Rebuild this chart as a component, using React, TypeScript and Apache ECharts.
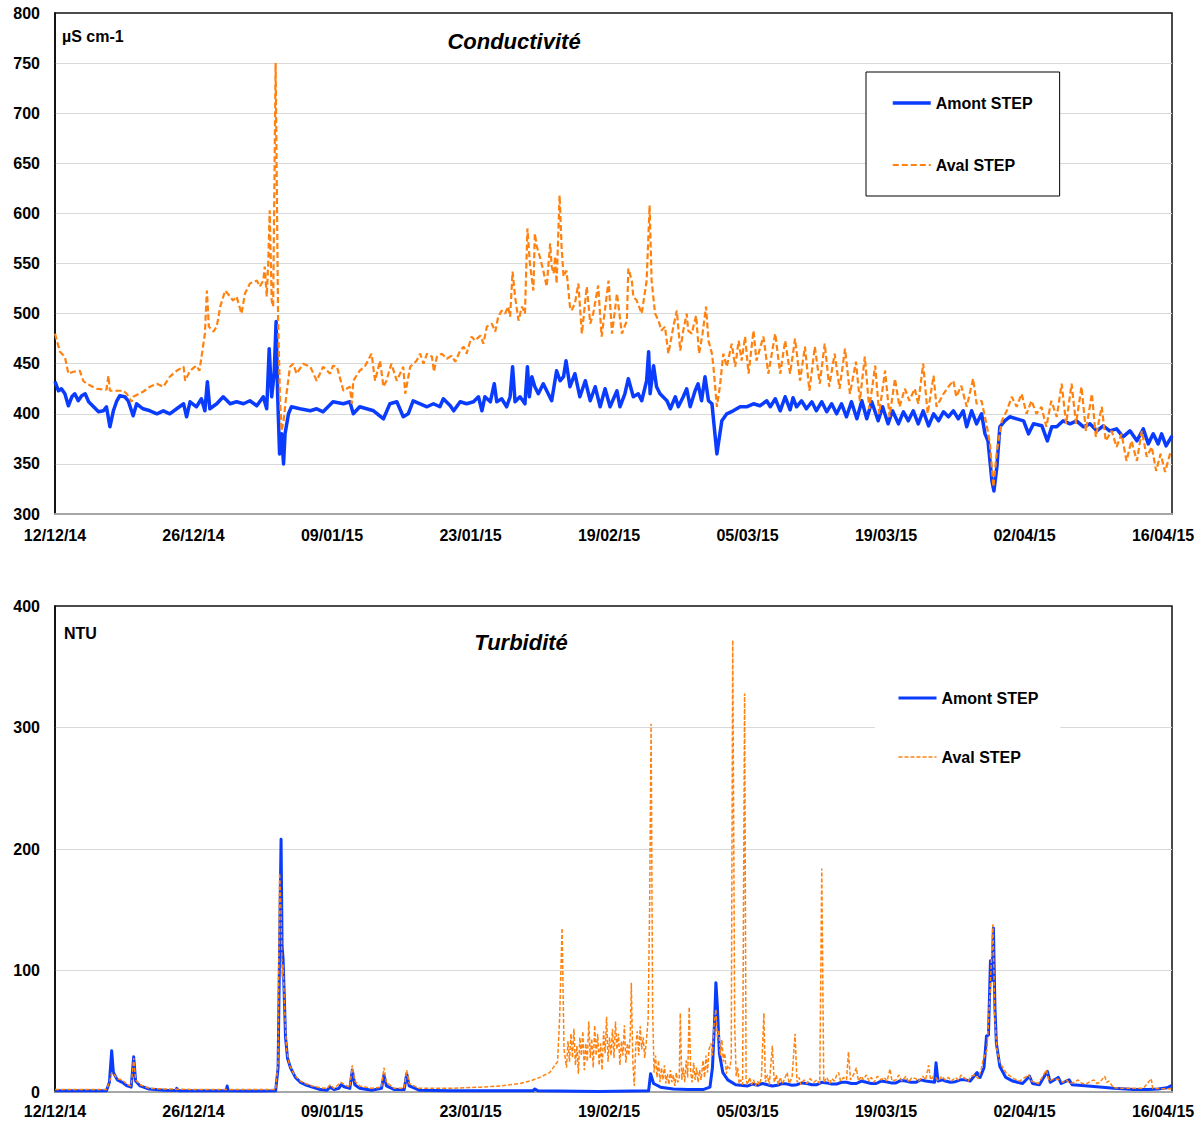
import React, { useEffect, useRef } from "react";
import * as echarts from "echarts";

// Axis tick labels, one every 14 days from the first sample
const tickLabels = [
  "12/12/14", "26/12/14", "09/01/15", "23/01/15", "19/02/15",
  "05/03/15", "19/03/15", "02/04/15", "16/04/15",
];
const seriesNames = ["Amont STEP", "Aval STEP"];

// Conductivity (µS cm-1), points as [day, value]
const condAmont: [number, number][] = [
  [0, 432], [0.35, 423], [0.65, 425], [1.0, 420], [1.35, 408], [1.7, 417], [2.0, 420], [2.35, 413], [2.7, 418],
  [3.05, 420], [3.4, 412], [3.9, 407], [4.4, 402], [4.9, 403], [5.2, 407], [5.55, 387], [5.9, 403], [6.25, 413],
  [6.55, 418], [7.05, 417], [7.4, 413], [7.9, 398], [8.25, 410], [8.9, 405], [9.6, 403], [10.3, 400], [10.95, 403],
  [11.6, 400], [12.3, 405], [13.0, 410], [13.3, 397], [13.65, 412], [14.3, 407], [14.8, 415], [15.15, 403],
  [15.4, 432], [15.65, 405], [16.35, 410], [17.0, 417], [17.7, 410], [18.35, 412], [19.05, 410], [19.7, 413],
  [20.4, 408], [21.05, 417], [21.4, 405], [21.65, 465], [21.9, 417], [22.15, 440], [22.35, 492], [22.5, 420],
  [22.7, 360], [22.9, 380], [23.1, 350], [23.25, 380], [23.6, 400], [23.9, 407], [24.75, 405], [25.8, 403],
  [26.45, 405], [27.1, 402], [28.1, 412], [29.15, 410], [29.8, 412], [30.15, 400], [30.8, 407], [31.5, 405],
  [32.2, 403], [33.2, 395], [33.85, 410], [34.55, 412], [35.2, 397], [35.7, 400], [36.2, 413], [36.9, 410],
  [37.6, 407], [38.25, 410], [38.9, 407], [39.25, 415], [39.95, 408], [40.3, 403], [40.95, 412], [41.6, 410],
  [42.3, 412], [42.8, 417], [43.15, 403], [43.45, 417], [44.0, 412], [44.4, 430], [44.65, 412], [45.15, 415],
  [45.65, 407], [46.0, 417], [46.25, 447], [46.5, 412], [47.0, 417], [47.5, 410], [47.75, 447], [47.95, 417],
  [48.2, 437], [48.5, 427], [48.85, 420], [49.35, 430], [49.85, 420], [50.2, 413], [50.7, 443], [51.05, 433],
  [51.4, 437], [51.65, 453], [52.05, 427], [52.55, 440], [53.05, 417], [53.6, 433], [54.1, 413], [54.6, 427],
  [55.1, 407], [55.6, 425], [56.1, 407], [56.8, 423], [57.1, 407], [57.6, 420], [57.95, 435], [58.45, 417],
  [58.95, 420], [59.3, 413], [59.8, 433], [60.0, 462], [60.15, 420], [60.5, 448], [60.8, 427], [61.15, 420],
  [61.85, 413], [62.2, 405], [62.7, 417], [63.0, 407], [63.5, 417], [63.85, 425], [64.2, 407], [64.7, 423],
  [65.0, 430], [65.35, 413], [65.7, 437], [66.05, 413], [66.4, 410], [66.7, 380], [66.9, 360], [67.05, 370],
  [67.4, 393], [67.9, 400], [68.55, 403], [69.25, 407], [69.9, 407], [70.6, 410], [71.25, 408], [71.95, 413],
  [72.3, 407], [72.8, 415], [73.3, 403], [73.8, 417], [74.3, 404], [74.6, 416], [74.95, 407], [75.45, 413],
  [75.95, 405], [76.5, 412], [76.95, 403], [77.5, 412], [78.0, 402], [78.5, 410], [79.0, 400], [79.5, 410],
  [80.0, 397], [80.5, 412], [81.05, 395], [81.55, 413], [82.05, 395], [82.55, 412], [83.2, 393], [83.65, 407],
  [84.2, 390], [84.65, 403], [85.25, 390], [85.75, 402], [86.25, 393], [86.75, 403], [87.25, 390], [87.75, 403],
  [88.3, 388], [88.8, 400], [89.3, 393], [89.8, 402], [90.3, 397], [90.8, 403], [91.3, 395], [91.8, 403],
  [92.15, 387], [92.65, 403], [93.15, 390], [93.65, 400], [94.0, 380], [94.3, 373], [94.7, 333], [94.9, 323],
  [95.2, 347], [95.5, 387], [96.0, 393], [96.5, 397], [97.2, 395], [97.9, 393], [98.4, 380], [98.9, 390],
  [99.75, 388], [100.3, 373], [100.75, 387], [101.25, 387], [101.9, 393], [102.6, 390], [103.25, 393],
  [103.95, 387], [104.6, 390], [105.3, 383], [105.95, 388], [106.6, 383], [107.3, 385], [107.95, 377],
  [108.65, 383], [109.35, 373], [110.0, 385], [110.5, 370], [111.0, 380], [111.5, 370], [111.85, 380],
  [112.3, 368], [112.9, 378],
];

const condAval: [number, number][] = [
  [0, 480], [0.5, 462], [1.0, 457], [1.35, 440], [1.85, 442], [2.5, 443], [2.85, 433], [3.2, 430], [4.2, 425],
  [5.2, 424], [5.4, 438], [5.55, 423], [6.9, 423], [7.25, 420], [7.75, 412], [7.9, 417], [8.9, 422], [9.6, 427],
  [10.3, 430], [10.95, 427], [11.6, 437], [12.3, 443], [13.0, 447], [13.15, 433], [13.65, 443], [14.3, 448],
  [14.6, 443], [14.9, 463], [15.15, 480], [15.35, 523], [15.55, 487], [16.0, 482], [16.35, 487], [16.7, 507],
  [17.2, 523], [17.7, 517], [18.0, 513], [18.35, 517], [18.85, 500], [19.2, 520], [19.7, 530], [20.4, 533],
  [20.7, 527], [21.05, 533], [21.2, 547], [21.4, 517], [21.55, 550], [21.7, 603], [21.9, 513], [22.05, 507],
  [22.3, 750], [22.55, 493], [22.75, 413], [22.9, 383], [23.1, 393], [23.4, 420], [23.75, 447], [24.1, 450],
  [24.4, 440], [25.1, 450], [25.8, 447], [26.45, 433], [27.1, 447], [27.8, 440], [28.1, 448], [28.5, 447],
  [29.15, 423], [29.8, 427], [30.0, 410], [30.15, 433], [30.8, 443], [31.3, 447], [32.0, 460], [32.35, 433],
  [32.85, 453], [33.2, 427], [33.5, 433], [34.0, 450], [34.55, 433], [35.2, 447], [35.4, 420], [35.9, 447],
  [36.55, 453], [36.9, 460], [37.25, 450], [37.6, 460], [38.1, 457], [38.3, 442], [38.6, 457], [39.1, 460],
  [39.6, 455], [40.1, 458], [40.45, 452], [40.95, 463], [41.3, 467], [41.6, 460], [42.1, 477], [42.45, 473],
  [43.0, 478], [43.3, 470], [43.65, 487], [44.15, 490], [44.5, 482], [44.8, 497], [45.15, 503], [45.5, 500],
  [45.8, 507], [46.0, 497], [46.25, 542], [46.5, 517], [46.85, 493], [47.2, 507], [47.5, 500], [47.75, 585],
  [48.0, 550], [48.35, 523], [48.5, 580], [48.7, 567], [49.0, 557], [49.35, 543], [49.7, 527], [50.05, 570],
  [50.2, 547], [50.4, 540], [50.55, 557], [50.7, 530], [51.0, 618], [51.2, 567], [51.4, 537], [51.7, 543],
  [52.05, 507], [52.2, 503], [52.55, 510], [52.9, 530], [53.25, 480], [53.75, 527], [54.1, 490], [54.4, 500],
  [54.9, 528], [55.25, 477], [55.95, 533], [56.3, 480], [56.8, 520], [57.3, 480], [57.8, 493], [57.95, 545],
  [58.3, 533], [58.45, 517], [58.8, 513], [59.3, 500], [59.8, 533], [60.1, 608], [60.3, 533], [60.65, 500],
  [61.0, 493], [61.3, 483], [61.65, 487], [62.0, 460], [62.5, 487], [62.85, 503], [63.2, 463], [63.5, 483],
  [63.85, 500], [64.0, 483], [64.35, 480], [64.8, 498], [65.1, 460], [65.45, 480], [65.8, 507], [66.05, 473],
  [66.4, 460], [66.55, 447], [66.9, 407], [67.2, 427], [67.55, 460], [67.9, 447], [68.4, 470], [68.75, 447],
  [69.1, 473], [69.4, 453], [69.75, 477], [70.1, 440], [70.6, 483], [70.9, 453], [71.6, 477], [72.1, 440],
  [72.8, 480], [73.3, 440], [73.8, 473], [74.3, 440], [74.8, 475], [75.3, 433], [75.8, 467], [76.25, 423],
  [76.8, 467], [77.3, 430], [77.8, 470], [78.25, 427], [78.8, 460], [79.3, 425], [79.85, 465], [80.35, 420],
  [80.95, 452], [81.35, 413], [81.85, 457], [82.3, 405], [82.9, 448], [83.3, 400], [83.9, 443], [84.35, 397],
  [84.9, 435], [85.35, 407], [85.9, 425], [86.35, 413], [86.9, 425], [87.25, 410], [87.75, 450], [88.2, 400],
  [88.8, 438], [89.1, 407], [89.8, 420], [90.3, 427], [90.8, 433], [91.1, 417], [91.6, 428], [92.15, 407],
  [92.8, 435], [93.15, 410], [93.65, 413], [94.2, 387], [94.5, 370], [94.85, 327], [95.2, 363], [95.7, 393],
  [96.2, 403], [96.7, 417], [97.2, 407], [97.7, 420], [98.2, 400], [98.7, 413], [99.2, 400], [99.7, 407],
  [100.2, 387], [100.7, 413], [101.25, 397], [101.75, 430], [102.2, 390], [102.75, 430], [103.2, 390],
  [103.75, 427], [104.2, 383], [104.8, 420], [105.2, 377], [105.8, 407], [106.2, 373], [106.8, 383],
  [107.3, 367], [107.8, 380], [108.3, 353], [108.8, 373], [109.35, 353], [109.85, 383], [110.35, 357],
  [110.85, 367], [111.3, 343], [111.75, 360], [112.2, 342], [112.7, 360], [112.9, 362],
];

// Turbidity (NTU), points as [day, value]
const turbAmont: [number, number][] = [
  [0, 1], [3, 1], [5.2, 1], [5.5, 8], [5.73, 34], [5.9, 16], [6.3, 10], [6.8, 8], [7.3, 5], [7.7, 4],
  [7.95, 29], [8.15, 9], [8.6, 5], [9.5, 2.5], [11, 1.5], [12.2, 1.2], [12.3, 3], [12.5, 1], [15, 1], [17.3, 1],
  [17.4, 5], [17.5, 1], [20, 0.8], [22.3, 1], [22.55, 20], [22.75, 150], [22.85, 208], [22.95, 120],
  [23.05, 110], [23.15, 85], [23.3, 45], [23.5, 28], [23.8, 20], [24.3, 12], [24.8, 8], [25.3, 6], [26, 4],
  [26.8, 2], [27.5, 1.5], [27.8, 4], [28.2, 2], [28.7, 3], [28.9, 6], [29.3, 4], [29.8, 3], [30.05, 18],
  [30.3, 6], [30.8, 3], [32, 1.5], [33.0, 3], [33.25, 14], [33.5, 5], [34.3, 2], [35.3, 2], [35.55, 15],
  [35.8, 5], [36.8, 1.5], [40, 1], [45, 1], [48.3, 1], [48.5, 2.5], [48.8, 1], [55, 0.5], [60.0, 1],
  [60.2, 15], [60.5, 7], [61.2, 4], [62.5, 2.5], [64, 2], [65.5, 2], [66.2, 4], [66.45, 20], [66.65, 55],
  [66.8, 90], [66.95, 70], [67.15, 32], [67.5, 16], [68, 10], [68.8, 6], [70, 5], [70.5, 6.5], [71, 5.5],
  [71.5, 7], [72, 6], [72.5, 5], [73, 5.5], [73.5, 7], [74, 6.5], [74.5, 5.5], [75, 6], [75.5, 7.5], [76, 7],
  [76.5, 6], [77, 6], [77.5, 8], [78, 7.5], [78.5, 6.5], [79, 6.5], [79.5, 8], [80, 8], [80.5, 7], [81, 7],
  [81.5, 9], [82, 8], [82.5, 7], [83, 7], [83.5, 9], [84, 8.5], [84.5, 7.5], [85, 7.5], [85.5, 9.5], [86, 9],
  [86.5, 8], [87, 8], [87.5, 10], [88, 9], [88.9, 8], [89.05, 24], [89.25, 9], [89.7, 10], [90, 9], [90.5, 8],
  [91, 8.5], [91.5, 10], [92, 10], [92.5, 9], [93.2, 16], [93.5, 12], [93.9, 20], [94.15, 46], [94.35, 47],
  [94.55, 108], [94.7, 92], [94.85, 135], [95.0, 70], [95.15, 40], [95.5, 21], [96.1, 12], [96.8, 9],
  [97.8, 7], [98.5, 13], [98.8, 7], [99.5, 6], [100.3, 17], [100.6, 8], [101.4, 12], [101.7, 7], [102.5, 10],
  [102.8, 6], [103.5, 5.5], [105, 4.5], [107, 3], [109, 2], [110.5, 2], [111.5, 2.5], [112.4, 3.5], [112.9, 5.5],
];

const turbAval: [number, number][] = [
  [0, 2], [5.2, 2], [5.5, 8], [5.73, 16], [5.9, 15], [6.3, 11], [6.8, 10], [7.3, 6], [7.7, 5], [7.95, 28],
  [8.15, 10], [8.6, 6], [9.5, 3], [11, 2.5], [15, 2], [20, 2], [22.3, 2], [22.55, 25], [22.7, 180],
  [22.85, 150], [22.95, 95], [23.05, 105], [23.2, 70], [23.4, 35], [23.7, 22], [24.2, 14], [24.8, 9],
  [25.3, 7], [26, 5], [26.8, 3.5], [27.5, 3], [27.8, 6], [28.2, 3], [28.9, 8], [29.3, 6], [29.8, 4],
  [30.05, 22], [30.3, 9], [30.8, 5], [32, 3], [33.0, 4], [33.25, 20], [33.5, 8], [34.3, 3], [35.3, 3],
  [35.55, 18], [35.8, 7], [36.8, 3], [40, 3], [43, 4], [45, 5], [47, 7], [48, 9], [49, 12], [50, 16],
  [50.8, 25], [51.0, 60], [51.25, 135], [51.45, 35], [51.7, 20], [51.85, 42], [52.0, 25], [52.15, 48],
  [52.3, 28], [52.45, 52], [52.6, 22], [52.75, 38], [52.9, 15], [53.05, 45], [53.2, 30], [53.35, 50],
  [53.5, 18], [53.65, 40], [53.8, 25], [53.95, 58], [54.1, 28], [54.25, 44], [54.4, 20], [54.55, 55],
  [54.7, 30], [54.85, 48], [55.0, 22], [55.15, 40], [55.3, 18], [55.45, 50], [55.6, 32], [55.75, 62],
  [55.9, 25], [56.05, 45], [56.2, 30], [56.35, 52], [56.5, 28], [56.65, 58], [56.8, 35], [56.95, 48],
  [57.1, 22], [57.25, 42], [57.4, 30], [57.55, 55], [57.7, 24], [57.85, 40], [58.0, 30], [58.15, 48],
  [58.25, 90], [58.4, 26], [58.55, 5], [58.7, 38], [58.85, 50], [59.0, 30], [59.15, 54], [59.3, 35],
  [59.45, 45], [59.6, 28], [59.75, 40], [59.95, 60], [60.1, 150], [60.25, 303], [60.4, 68], [60.55, 16],
  [60.7, 30], [60.85, 12], [61.0, 26], [61.15, 8], [61.3, 20], [61.45, 10], [61.6, 22], [61.75, 7],
  [61.9, 15], [62.05, 6], [62.2, 18], [62.35, 8], [62.5, 14], [62.65, 5], [62.8, 16], [62.95, 8], [63.1, 12],
  [63.2, 65], [63.35, 10], [63.5, 20], [63.65, 8], [63.8, 26], [63.95, 12], [64.1, 70], [64.25, 16],
  [64.4, 8], [64.55, 24], [64.7, 10], [64.85, 20], [65.0, 8], [65.15, 18], [65.3, 10], [65.5, 26],
  [65.65, 12], [65.8, 30], [65.95, 16], [66.1, 35], [66.3, 40], [66.45, 30], [66.6, 54], [66.8, 68],
  [66.95, 45], [67.1, 51], [67.25, 30], [67.4, 43], [67.55, 25], [67.7, 32], [67.85, 15], [68.0, 22],
  [68.2, 19], [68.35, 28], [68.5, 372], [68.7, 54], [68.85, 13], [69.0, 20], [69.15, 7], [69.3, 10],
  [69.5, 6], [69.7, 328], [69.85, 10], [70.0, 6], [70.2, 12], [70.4, 6], [70.6, 10], [70.8, 5], [71.0, 9],
  [71.2, 6], [71.4, 12], [71.65, 65], [71.8, 8], [72.0, 14], [72.2, 6], [72.5, 38], [72.7, 8], [72.9, 14],
  [73.1, 6], [73.3, 12], [73.5, 7], [73.7, 10], [74.0, 16], [74.2, 7], [74.5, 12], [74.8, 48], [75.0, 8],
  [75.2, 12], [75.4, 6], [75.7, 10], [76.0, 7], [76.3, 11], [76.7, 8], [77.0, 10], [77.3, 7], [77.5, 184],
  [77.7, 8], [78.0, 12], [78.3, 7], [78.5, 11], [78.8, 9], [79.0, 14], [79.2, 16], [79.4, 9], [79.7, 12],
  [80.0, 10], [80.2, 33], [80.4, 10], [80.7, 14], [81.0, 20], [81.2, 9], [81.5, 13], [81.7, 10], [82.0, 14],
  [82.3, 9], [82.5, 12], [82.8, 8], [83.1, 13], [83.5, 10], [83.8, 12], [84.1, 9], [84.4, 19], [84.6, 9],
  [85.0, 10], [85.3, 14], [85.6, 9], [86.0, 13], [86.3, 8], [86.6, 12], [87.0, 11], [87.3, 9], [87.7, 13],
  [88.0, 10], [88.3, 22], [88.5, 10], [88.8, 13], [89.0, 12], [89.3, 9], [89.6, 13], [90.0, 10], [90.3, 12],
  [90.6, 9], [91.0, 12], [91.3, 10], [91.6, 14], [92.0, 11], [92.3, 9], [92.6, 13], [93.0, 14], [93.3, 11],
  [93.6, 18], [93.8, 26], [94.2, 35], [94.5, 81], [94.8, 138], [95.0, 59], [95.2, 35], [95.5, 24],
  [96.2, 15], [96.9, 11], [97.5, 9], [98.4, 14], [98.7, 9], [99.4, 7], [100.2, 18], [100.5, 9], [101.0, 11],
  [101.5, 10], [101.9, 8], [102.2, 10], [102.6, 7], [103, 8], [103.4, 10], [103.8, 7], [104.3, 7],
  [104.7, 9], [105, 10], [105.3, 7], [105.6, 8], [105.9, 11], [106.1, 13], [106.3, 8], [106.5, 9],
  [107, 3.5], [108, 3], [110, 3], [110.8, 11], [110.95, 3], [112.9, 2.5],
];

const FONT = '"Liberation Sans", Arial, Helvetica, sans-serif';
const BLUE = "#0a3cff";
const ORANGE = "#ff8210";
const DAYS_PER_TICK = 14;
const X_MAX = 112.9;

function dateLabel(value: number): string {
  const k = Math.round(value / DAYS_PER_TICK);
  if (Math.abs(value - k * DAYS_PER_TICK) > 1e-6) return "";
  return tickLabels[k] ?? "";
}

function xAxisFor(gridIndex: number, margin: number) {
  return {
    gridIndex,
    type: "value",
    min: 0,
    max: X_MAX,
    interval: DAYS_PER_TICK,
    axisLine: { show: true, onZero: false, lineStyle: { color: "#a6a6a6", width: 2 } },
    axisTick: { show: false },
    splitLine: { show: false },
    axisLabel: {
      formatter: dateLabel,
      fontSize: 16,
      fontWeight: "bold",
      fontFamily: FONT,
      color: "#000",
      margin,
      showMaxLabel: false,
    },
  };
}

function yAxisFor(gridIndex: number, min: number, max: number, interval: number) {
  return {
    gridIndex,
    type: "value",
    min,
    max,
    interval,
    axisLine: { show: true, lineStyle: { color: "#000", width: 1.5 } },
    axisTick: { show: false },
    splitLine: {
      show: true,
      showMinLine: false,
      showMaxLine: false,
      lineStyle: { color: "#d9d9d9", width: 1 },
    },
    axisLabel: {
      fontSize: 16,
      fontWeight: "bold",
      fontFamily: FONT,
      color: "#000",
      margin: 15,
    },
  };
}

const legendText = { fontSize: 16, fontWeight: "bold", fontFamily: FONT, color: "#000" };

export default function App() {
  const ref = useRef<HTMLDivElement>(null);

  useEffect(() => {
    if (!ref.current) return;
    const chart = echarts.init(ref.current, undefined, { renderer: "svg" });
    chart.setOption({
      animation: false,
      backgroundColor: "#fff",
      grid: [
        { left: 55, top: 13, width: 1117, height: 501, show: true, borderColor: "#111", borderWidth: 1.5 },
        { left: 55, top: 606, width: 1117, height: 486, show: true, borderColor: "#111", borderWidth: 1.5 },
      ],
      xAxis: [xAxisFor(0, 13), xAxisFor(1, 11)],
      yAxis: [yAxisFor(0, 300, 800, 50), yAxisFor(1, 0, 400, 100)],
      legend: [
        {
          orient: "vertical",
          left: 866,
          top: 72,
          padding: [23, 27, 23, 25],
          itemGap: 46,
          itemWidth: 38,
          itemHeight: 14,
          borderColor: "#000",
          borderWidth: 1,
          backgroundColor: "#fff",
          selectedMode: false,
          itemStyle: { opacity: 0 },
          textStyle: legendText,
          data: [
            { name: seriesNames[0], lineStyle: { width: 3.5 } },
            { name: seriesNames[1], lineStyle: { width: 2.2, type: [6, 3] } },
          ],
        },
        {
          orient: "vertical",
          left: 875,
          top: 680,
          padding: [10, 22, 10, 22],
          itemGap: 43,
          itemWidth: 38,
          itemHeight: 14,
          backgroundColor: "#fff",
          selectedMode: false,
          itemStyle: { opacity: 0 },
          textStyle: legendText,
          data: [
            { name: seriesNames[0], lineStyle: { width: 3 } },
            { name: seriesNames[1], lineStyle: { width: 1.3, type: [4, 2] } },
          ],
        },
      ],
      graphic: [
        {
          type: "text",
          x: 62,
          y: 36,
          style: { text: "µS cm-1", fontSize: 16, fontWeight: "bold", fontFamily: FONT, fill: "#000", verticalAlign: "middle" },
        },
        {
          type: "text",
          x: 514,
          y: 41,
          style: {
            text: "Conductivité",
            fontSize: 22,
            fontWeight: "bold",
            fontStyle: "italic",
            fontFamily: FONT,
            fill: "#000",
            align: "center",
            verticalAlign: "middle",
          },
        },
        {
          type: "text",
          x: 64,
          y: 633,
          style: { text: "NTU", fontSize: 16, fontWeight: "bold", fontFamily: FONT, fill: "#000", verticalAlign: "middle" },
        },
        {
          type: "text",
          x: 521,
          y: 642,
          style: {
            text: "Turbidité",
            fontSize: 22,
            fontWeight: "bold",
            fontStyle: "italic",
            fontFamily: FONT,
            fill: "#000",
            align: "center",
            verticalAlign: "middle",
          },
        },
      ],
      series: [
        {
          name: seriesNames[0],
          type: "line",
          xAxisIndex: 0,
          yAxisIndex: 0,
          data: condAmont,
          symbol: "none",
          showSymbol: false,
          color: BLUE,
          lineStyle: { color: BLUE, width: 3.5, join: "round" },
        },
        {
          name: seriesNames[1],
          type: "line",
          xAxisIndex: 0,
          yAxisIndex: 0,
          data: condAval,
          symbol: "none",
          showSymbol: false,
          color: ORANGE,
          lineStyle: { color: ORANGE, width: 2.2, type: [6, 3] },
        },
        {
          name: seriesNames[0],
          type: "line",
          xAxisIndex: 1,
          yAxisIndex: 1,
          data: turbAmont,
          symbol: "none",
          showSymbol: false,
          color: BLUE,
          lineStyle: { color: BLUE, width: 3, join: "round" },
        },
        {
          name: seriesNames[1],
          type: "line",
          xAxisIndex: 1,
          yAxisIndex: 1,
          data: turbAval,
          symbol: "none",
          showSymbol: false,
          color: ORANGE,
          lineStyle: { color: ORANGE, width: 1.5, type: [4, 2] },
        },
      ],
    });
    return () => chart.dispose();
  }, []);

  return (
    <div
      ref={ref}
      style={{ position: "absolute", left: 0, top: 0, width: 1203, height: 1122, background: "#fff" }}
    />
  );
}
